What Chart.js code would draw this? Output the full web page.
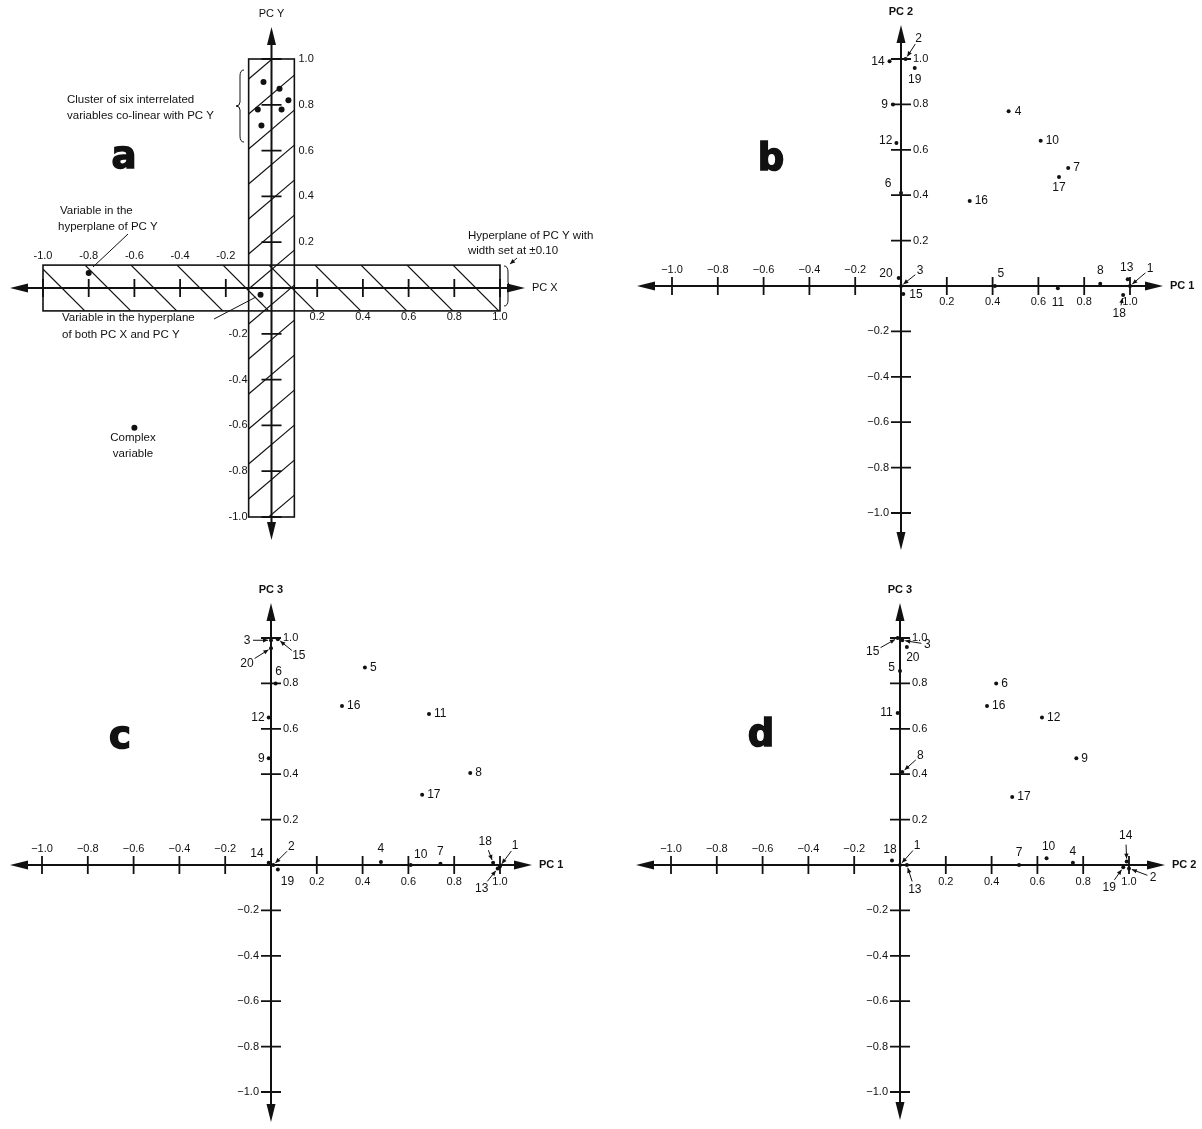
<!DOCTYPE html>
<html>
<head>
<meta charset="utf-8">
<script src="https://cdn.jsdelivr.net/npm/chart.js@4.4.0/dist/chart.umd.min.js"></script>
<style>
  html, body { margin: 0; padding: 0; background: #fff; }
  #page { position: relative; width: 1202px; height: 1129px; overflow: hidden; }
  canvas { position: absolute; }
</style>
</head>
<body>
<div id="page">
  <canvas id="chartA" width="600" height="560" style="left:0;top:0"></canvas>
  <canvas id="chartB" width="602" height="560" style="left:600px;top:0"></canvas>
  <canvas id="chartC" width="600" height="569" style="left:0;top:560px"></canvas>
  <canvas id="chartD" width="602" height="569" style="left:600px;top:560px"></canvas>
</div>
<script>
// tick positions and labels
const tickVals = [-1.0, -0.8, -0.6, -0.4, -0.2, 0.2, 0.4, 0.6, 0.8, 1.0];
const tickLabelsA = ['-1.0', '-0.8', '-0.6', '-0.4', '-0.2', '0.2', '0.4', '0.6', '0.8', '1.0'];
const tickLabels = ['\u22121.0', '\u22120.8', '\u22120.6', '\u22120.4', '\u22120.2', '0.2', '0.4', '0.6', '0.8', '1.0'];

// panel a: schematic loadings
const bandWidth = 0.10;
const clusterX = [-0.035, 0.035, 0.074, -0.06, 0.044, -0.044];
const clusterY = [0.90, 0.87, 0.82, 0.78, 0.78, 0.71];
const hyperYX = [-0.80];
const hyperYY = [0.066];
const bothX = [-0.048];
const bothY = [-0.03];
const complexX = [-0.60];
const complexY = [-0.61];

// variables 1..20
const varIds = [1, 2, 3, 4, 5, 6, 7, 8, 9, 10, 11, 12, 13, 14, 15, 16, 17, 18, 19, 20];
// panel b: PC 1 vs PC 2
const pc1B = [1.0, 0.02, 0.0, 0.47, 0.41, 0.0, 0.73, 0.87, -0.035, 0.61, 0.685, -0.02, 0.99, -0.05, 0.01, 0.30, 0.69, 0.97, 0.06, -0.01];
const pc2B = [0.0, 1.0, 0.0, 0.77, 0.0, 0.41, 0.52, 0.01, 0.80, 0.64, -0.01, 0.63, 0.03, 0.99, -0.035, 0.375, 0.48, -0.04, 0.96, 0.035];
// panel c: PC 1 vs PC 3
const pc1C = [1.0, 0.01, 0.0, 0.48, 0.41, 0.02, 0.74, 0.87, -0.01, 0.61, 0.69, -0.01, 0.99, -0.01, 0.03, 0.31, 0.66, 0.97, 0.03, 0.0];
const pc3C = [-0.005, 0.0, 0.99, 0.013, 0.87, 0.80, 0.005, 0.405, 0.47, 0.0, 0.665, 0.65, -0.015, 0.01, 0.995, 0.70, 0.31, 0.01, -0.02, 0.955];
// panel d: PC 2 vs PC 3
const pc2D = [0.0, 1.0, 0.01, 0.755, 0.0, 0.42, 0.52, 0.01, 0.77, 0.64, -0.01, 0.62, 0.03, 0.99, -0.01, 0.38, 0.49, -0.035, 0.975, 0.03];
const pc3D = [0.0, -0.015, 0.99, 0.01, 0.855, 0.80, 0.0, 0.41, 0.47, 0.03, 0.67, 0.65, 0.0, 0.015, 1.0, 0.70, 0.30, 0.02, -0.01, 0.96];

// label placement for numbered points: [dx, dy, align, arrow]
const labelsB = {
  1: [20, -17, 'c', 1], 2: [13, -20, 'c', 1], 3: [19, -15, 'c', 1], 4: [6, 0, 'l'], 5: [6, -12, 'c'],
  6: [-13, -9, 'c'], 7: [5, 0, 'l'], 8: [0, -13, 'c'], 9: [-5, 0, 'r'], 10: [5, 0, 'l'],
  11: [0, 14, 'c'], 12: [-4, -2, 'r'], 13: [-1, -12, 'c'], 14: [-5, 0, 'r'], 15: [6, 1, 'l'],
  16: [5, 0, 'l'], 17: [0, 11, 'c'], 18: [-4, 19, 'c', 1], 19: [0, 12, 'c'], 20: [-6, -4, 'r']
};
const labelsC = {
  1: [15, -20, 'c', 1], 2: [18, -18, 'c', 1], 3: [-24, 0, 'c', 1], 4: [0, -13, 'c'], 5: [5, 0, 'l'],
  6: [3, -12, 'c'], 7: [0, -12, 'c'], 8: [5, 0, 'l'], 9: [-4, 0, 'r'], 10: [10, -10, 'c'],
  11: [5, 0, 'l'], 12: [-4, 0, 'r'], 13: [-16, 20, 'c', 1], 14: [-5, -9, 'r'], 15: [21, 17, 'c', 1],
  16: [5, 0, 'l'], 17: [5, 0, 'l'], 18: [-8, -21, 'c', 1], 19: [3, 12, 'l'], 20: [-24, 15, 'c', 1]
};
const labelsD = {
  1: [17, -19, 'c', 1], 2: [24, 9, 'c', 1], 3: [25, 4, 'c', 1], 4: [0, -11, 'c'], 5: [-5, -3, 'r'],
  6: [5, 0, 'l'], 7: [0, -12, 'c'], 8: [18, -16, 'c', 1], 9: [5, 0, 'l'], 10: [2, -12, 'c'],
  11: [-5, 0, 'r'], 12: [5, 0, 'l'], 13: [8, 25, 'c', 1], 14: [-1, -26, 'c', 1], 15: [-25, 14, 'c', 1],
  16: [5, 0, 'l'], 17: [5, 0, 'l'], 18: [-2, -11, 'c'], 19: [-14, 20, 'c', 1], 20: [6, 11, 'c']
};

const FONT = '"Liberation Sans", Arial, Helvetica, sans-serif';
const INK = '#111';

function arrowHead(ctx, x, y, ang, len, half) {
  ctx.beginPath();
  ctx.moveTo(x, y);
  ctx.lineTo(x - len * Math.cos(ang) + half * Math.sin(ang), y - len * Math.sin(ang) - half * Math.cos(ang));
  ctx.lineTo(x - len * Math.cos(ang) - half * Math.sin(ang), y - len * Math.sin(ang) + half * Math.cos(ang));
  ctx.closePath();
  ctx.fill();
}

function smallArrow(ctx, x0, y0, x1, y1) {
  ctx.beginPath();
  ctx.moveTo(x0, y0);
  ctx.lineTo(x1, y1);
  ctx.stroke();
  arrowHead(ctx, x1, y1, Math.atan2(y1 - y0, x1 - x0), 5, 2.2);
}

function brace(ctx, x, y0, y1, dir) {
  const ym = (y0 + y1) / 2, tipX = x + dir * 4, endX = x - dir * 4;
  ctx.beginPath();
  ctx.moveTo(endX, y0);
  ctx.quadraticCurveTo(x, y0, x, y0 + 6);
  ctx.lineTo(x, ym - 4);
  ctx.quadraticCurveTo(x, ym, tipX, ym);
  ctx.quadraticCurveTo(x, ym, x, ym + 4);
  ctx.lineTo(x, y1 - 6);
  ctx.quadraticCurveTo(x, y1, endX, y1);
  ctx.stroke();
}

function text(ctx, s, x, y, align, font) {
  ctx.font = font || ('11px ' + FONT);
  ctx.textAlign = align || 'center';
  ctx.textBaseline = 'middle';
  ctx.fillText(s, x, y);
}

// axes, ticks, arrows, hatching
function drawFrame(chart, p) {
  const ctx = chart.ctx, xs = chart.scales.x, ys = chart.scales.y;
  const X = v => xs.getPixelForValue(v), Y = v => ys.getPixelForValue(v);
  const ox = X(0), oy = Y(0);
  ctx.save();
  ctx.strokeStyle = INK;
  ctx.fillStyle = INK;

  if (p.bands) {
    const bx0 = X(-bandWidth), bx1 = X(bandWidth), by0 = Y(bandWidth), by1 = Y(-bandWidth);
    const top = Y(1), bot = Y(-1), lft = X(-1), rgt = X(1);
    ctx.lineWidth = 1.2;
    // vertical band "/" hatching
    ctx.save();
    ctx.beginPath(); ctx.rect(bx0, top, bx1 - bx0, bot - top); ctx.clip();
    const w = bx1 - bx0;
    for (let y = top + 20; y < bot + w + 40; y += 35) {
      ctx.beginPath(); ctx.moveTo(bx0, y); ctx.lineTo(bx1, y - w * 0.85); ctx.stroke();
    }
    ctx.restore();
    // horizontal band "\" hatching
    ctx.save();
    ctx.beginPath(); ctx.rect(lft, by0, rgt - lft, by1 - by0); ctx.clip();
    const h = by1 - by0;
    for (let x = lft - 50; x < rgt + 10; x += 46) {
      ctx.beginPath(); ctx.moveTo(x, by0); ctx.lineTo(x + h, by1); ctx.stroke();
    }
    ctx.restore();
    ctx.lineWidth = 1.6;
    ctx.strokeRect(bx0, top, w, bot - top);
    ctx.strokeRect(lft, by0, rgt - lft, h);
  }

  // main axes
  ctx.lineWidth = 2;
  ctx.beginPath();
  ctx.moveTo(X(-1) + p.ends[0] + 10, oy); ctx.lineTo(X(1) + p.ends[1] - 10, oy);
  ctx.moveTo(ox, Y(1) + p.ends[2] + 10); ctx.lineTo(ox, Y(-1) + p.ends[3] - 10);
  ctx.stroke();
  arrowHead(ctx, X(-1) + p.ends[0], oy, Math.PI, 18, 4.5);
  arrowHead(ctx, X(1) + p.ends[1], oy, 0, 18, 4.5);
  arrowHead(ctx, ox, Y(1) + p.ends[2], -Math.PI / 2, 18, 4.5);
  arrowHead(ctx, ox, Y(-1) + p.ends[3], Math.PI / 2, 18, 4.5);

  // ticks
  ctx.lineWidth = 1.8;
  tickVals.forEach((v, i) => {
    ctx.beginPath();
    ctx.moveTo(X(v), oy - 9); ctx.lineTo(X(v), oy + 9);
    ctx.moveTo(ox - 10, Y(v)); ctx.lineTo(ox + 10, Y(v));
    ctx.stroke();
    const lab = p.bands ? tickLabelsA[i] : tickLabels[i];
    if (v < 0) {
      text(ctx, lab, X(v), oy - p.tickOff[0]);
      text(ctx, lab, ox - p.tickOff[3], Y(v), 'right');
    } else {
      text(ctx, lab, X(v), oy + p.tickOff[1]);
      text(ctx, lab, ox + p.tickOff[2], Y(v), 'left');
    }
  });

  // axis titles
  const tf = (p.bands ? '' : 'bold ') + '11px ' + FONT;
  text(ctx, p.yTitle, ox, Y(1) + p.ends[2] - 13, 'center', tf);
  text(ctx, p.xTitle, X(1) + p.ends[1] + 7, oy, 'left', tf);

  // panel letter
  ctx.font = 'bold 37px "DejaVu Sans", ' + FONT;
  ctx.textAlign = 'center';
  ctx.textBaseline = 'middle';
  ctx.lineWidth = 1.5;
  ctx.strokeText(p.letter, p.letterPos[0], p.letterPos[1]);
  ctx.fillText(p.letter, p.letterPos[0], p.letterPos[1]);
  ctx.restore();
}

function drawNotes(chart, p) {
  const ctx = chart.ctx;
  ctx.save();
  ctx.strokeStyle = INK;
  ctx.fillStyle = INK;
  ctx.lineWidth = 1;
  if (p.notes) {
    const f = '11.5px ' + FONT;
    text(ctx, 'Cluster of six interrelated', 67, 100, 'left', f);
    text(ctx, 'variables co-linear with PC Y', 67, 116, 'left', f);
    brace(ctx, 240, 70, 142, -1);
    text(ctx, 'Variable in the', 60, 211, 'left', f);
    text(ctx, 'hyperplane of PC Y', 58, 227, 'left', f);
    ctx.beginPath(); ctx.moveTo(128, 234); ctx.lineTo(93, 267); ctx.stroke();
    text(ctx, 'Hyperplane of PC Y with', 468, 236, 'left', f);
    text(ctx, 'width set at \u00b10.10', 468, 251, 'left', f);
    smallArrow(ctx, 517, 258, 510, 264);
    brace(ctx, 508, 266, 306, 1);
    text(ctx, 'Variable in the hyperplane', 62, 318, 'left', f);
    text(ctx, 'of both PC X and PC Y', 62, 335, 'left', f);
    ctx.beginPath(); ctx.moveTo(214, 319); ctx.lineTo(256, 297); ctx.stroke();
    text(ctx, 'Complex', 133, 438, 'center', f);
    text(ctx, 'variable', 133, 454, 'center', f);
  }
  if (p.labels) {
    const meta = chart.getDatasetMeta(0);
    const f = '12px ' + FONT;
    varIds.forEach((id, i) => {
      const s = p.labels[id];
      const pt = meta.data[i];
      const lx = pt.x + s[0], ly = pt.y + s[1];
      const al = s[2] === 'l' ? 'left' : s[2] === 'r' ? 'right' : 'center';
      text(ctx, String(id), lx, ly, al, f);
      if (s[3]) {
        const vx = pt.x - lx, vy = pt.y - ly, d = Math.hypot(vx, vy);
        const st = id > 9 ? 9 : 6;
        smallArrow(ctx, lx + vx / d * st, ly + vy / d * st, pt.x - vx / d * 3, pt.y - vy / d * 3);
      }
    });
  }
  ctx.restore();
}

const crossAxes = (p) => ({
  id: 'crossAxes',
  beforeDatasetsDraw(chart) { drawFrame(chart, p); },
  afterDatasetsDraw(chart) { drawNotes(chart, p); }
});

const points = (xs, ys) => xs.map((x, i) => ({ x: x, y: ys[i] }));

const panels = [
  {
    id: 'chartA', letter: 'a', letterPos: [124, 158], bands: true, notes: true,
    pad: { left: 43, right: 100, top: 59, bottom: 43 },
    ends: [-33, 25, -32, 23], tickOff: [32, 29, 27, 24],
    xTitle: 'PC X', yTitle: 'PC Y',
    sets: [points(clusterX, clusterY), points(hyperYX, hyperYY), points(bothX, bothY), points(complexX, complexY)],
    radius: 3
  },
  {
    id: 'chartB', letter: 'b', letterPos: [171, 160],
    pad: { left: 72, right: 72, top: 59, bottom: 47 },
    ends: [-35, 33, -34, 37], tickOff: [16, 16, 12, 12],
    xTitle: 'PC 1', yTitle: 'PC 2',
    sets: [points(pc1B, pc2B)], labels: labelsB, radius: 2
  },
  {
    id: 'chartC', letter: 'c', letterPos: [120, 178],
    pad: { left: 42, right: 100, top: 78, bottom: 37 },
    ends: [-32, 32, -35, 30], tickOff: [16, 17, 12, 12],
    xTitle: 'PC 1', yTitle: 'PC 3',
    sets: [points(pc1C, pc3C)], labels: labelsC, radius: 2
  },
  {
    id: 'chartD', letter: 'd', letterPos: [161, 176],
    pad: { left: 71, right: 73, top: 78, bottom: 37 },
    ends: [-35, 36, -35, 28], tickOff: [16, 17, 12, 12],
    xTitle: 'PC 2', yTitle: 'PC 3',
    sets: [points(pc2D, pc3D)], labels: labelsD, radius: 2
  }
];

panels.forEach(p => {
  new Chart(document.getElementById(p.id), {
    type: 'scatter',
    data: {
      datasets: p.sets.map(d => ({
        data: d,
        pointRadius: p.radius,
        pointBackgroundColor: INK,
        pointBorderWidth: 0,
        showLine: false,
        clip: false
      }))
    },
    options: {
      responsive: false,
      animation: false,
      devicePixelRatio: 1,
      layout: { padding: p.pad },
      events: [],
      plugins: { legend: { display: false }, tooltip: { enabled: false } },
      scales: {
        x: { type: 'linear', min: -1, max: 1, display: false },
        y: { type: 'linear', min: -1, max: 1, display: false }
      }
    },
    plugins: [crossAxes(p)]
  });
});
</script>
</body>
</html>
